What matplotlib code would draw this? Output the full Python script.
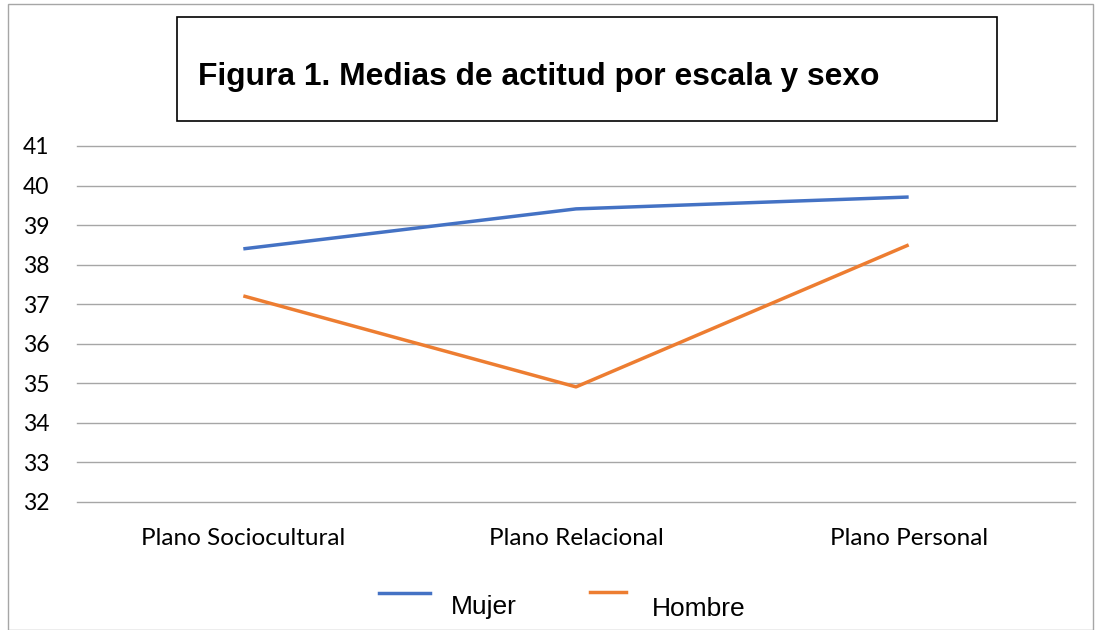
import matplotlib
matplotlib.use("Agg")
import matplotlib.pyplot as plt
from matplotlib.lines import Line2D
from matplotlib.patches import Rectangle

categories = ["Plano Sociocultural", "Plano Relacional", "Plano Personal"]
mujer = [38.4, 39.41, 39.71]
hombre = [37.21, 34.91, 38.5]
yticks = list(range(32, 42))
title = "Figura 1. Medias de actitud por escala y sexo"

BLUE = "#4472C4"
ORANGE = "#ED7D31"

W, H = 1100, 630
fig = plt.figure(figsize=(11, 6.3), dpi=100)

# outer frame
fig.patches.append(Rectangle((8 / W, 0), (1093 - 8) / W, 1 - 4 / H, transform=fig.transFigure,
                             fill=False, edgecolor="#A6A6A6", linewidth=1.0))

ax = fig.add_axes([77 / W, 1 - 502 / H, (1075 - 77) / W, (502 - 146) / H])
x = list(range(len(categories)))
ax.plot(x, mujer, color=BLUE, linewidth=2.5, solid_capstyle="butt")
ax.plot(x, hombre, color=ORANGE, linewidth=2.5, solid_capstyle="butt")
ax.set_xlim(-0.5, len(categories) - 0.5)
ax.set_ylim(32, 41)
ax.set_yticks(yticks)
ax.set_xticks(x)
ax.set_xticklabels(categories)
ax.grid(axis="y", color="#A6A6A6", linewidth=1.0)
for gl in ax.get_ygridlines():
    gl.set_clip_on(False)
ax.set_axisbelow(True)
for s in ax.spines.values():
    s.set_visible(False)
ax.tick_params(axis="both", length=0, colors="black")
ax.tick_params(axis="y", pad=20, labelsize=16.5)
ax.tick_params(axis="x", pad=19, labelsize=17.5)
for lab in ax.get_yticklabels() + ax.get_xticklabels():
    lab.set_family(["Lato", "DejaVu Sans"])

# title box
fig.patches.append(Rectangle((177 / W, 1 - 121 / H), (997 - 177) / W, (121 - 17) / H,
                             transform=fig.transFigure, fill=False, edgecolor="black", linewidth=1.2))
fig.text(198 / W, 1 - 77 / H, title, fontsize=22.9, fontweight="bold",
         family=["Liberation Sans", "DejaVu Sans"], va="center", ha="left")

# legend
fig.add_artist(Line2D([379 / W, 430 / W], [1 - 593 / H, 1 - 593 / H], color=BLUE, linewidth=2.5,
                      transform=fig.transFigure))
fig.text(451 / W, 1 - 607 / H, "Mujer", fontsize=19, family=["Liberation Sans", "DejaVu Sans"],
         va="center", ha="left")
fig.add_artist(Line2D([590 / W, 626 / W], [1 - 592 / H, 1 - 592 / H], color=ORANGE, linewidth=2.5,
                      transform=fig.transFigure))
fig.text(652 / W, 1 - 609 / H, "Hombre", fontsize=19, family=["Liberation Sans", "DejaVu Sans"],
         va="center", ha="left")

fig.savefig("out.png", dpi=100)
